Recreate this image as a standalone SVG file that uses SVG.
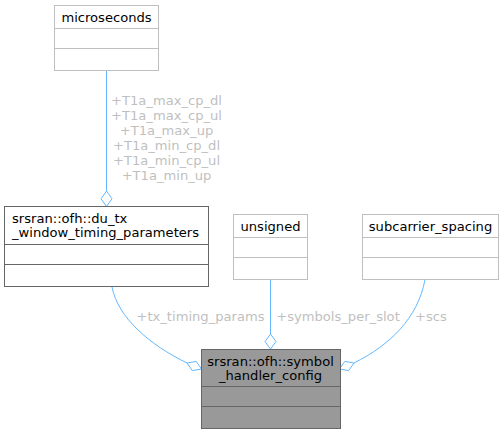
<svg xmlns="http://www.w3.org/2000/svg" width="504" height="435" viewBox="0 0 504 435">
<style>
text{font-family:"DejaVu Sans",sans-serif;font-size:13.1px;fill:#000}
.lbl{fill:#bfbfbf}
.light{fill:#fff;stroke:#bfbfbf;stroke-width:1}
.dark{fill:#fff;stroke:#666;stroke-width:1}
.main{fill:#999;stroke:#666;stroke-width:1}
.edge{fill:none;stroke:#63b8ff;stroke-width:1}
.dia{fill:#fff;stroke:#63b8ff;stroke-width:1}
</style>
<rect width="504" height="435" fill="#fff"/>
<g id="connectors">
<path class="edge" d="M106.5,70.5 L106.5,191"/>
<path class="dia" d="M106.5,206.5 L101,198.75 L106.5,191 L112,198.75 Z"/>
<text class="lbl" x="166.5" y="104.5" text-anchor="middle">+T1a_max_cp_dl</text>
<text class="lbl" x="166.5" y="119.5" text-anchor="middle">+T1a_max_cp_ul</text>
<text class="lbl" x="166.5" y="134.5" text-anchor="middle">+T1a_max_up</text>
<text class="lbl" x="166.5" y="149.5" text-anchor="middle">+T1a_min_cp_dl</text>
<text class="lbl" x="166.5" y="164.5" text-anchor="middle">+T1a_min_cp_ul</text>
<text class="lbl" x="166.5" y="179.5" text-anchor="middle">+T1a_min_up</text>
<path class="edge" d="M112,287 C118,318 150,345 187,363"/>
<path class="dia" d="M201.5,369 L192.3,370.6 L187,363 L196.2,361.4 Z"/>
<text class="lbl" x="200.5" y="320.5" text-anchor="middle">+tx_timing_params</text>
<path class="edge" d="M270.5,279.5 L270.5,334"/>
<path class="dia" d="M270.5,349 L265,341.5 L270.5,334 L276,341.5 Z"/>
<text class="lbl" x="338" y="320.5" text-anchor="middle">+symbols_per_slot</text>
<path class="edge" d="M425,279.5 C418,318 390,345 354,363"/>
<path class="dia" d="M339.5,369 L348.7,370.6 L354,363 L344.8,361.4 Z"/>
<text class="lbl" x="431" y="320.5" text-anchor="middle">+scs</text>
</g>
<g id="microseconds">
<rect class="light" x="54.5" y="5.5" width="104" height="65"/>
<line class="light" x1="54.5" y1="28.5" x2="158.5" y2="28.5"/>
<line class="light" x1="54.5" y1="48.5" x2="158.5" y2="48.5"/>
<text x="106.5" y="21.5" text-anchor="middle">microseconds</text>
</g>
<g id="du_tx_window_timing_parameters">
<rect class="dark" x="4.5" y="206.5" width="204" height="80"/>
<line class="dark" x1="4.5" y1="244.5" x2="208.5" y2="244.5"/>
<line class="dark" x1="4.5" y1="264.5" x2="208.5" y2="264.5"/>
<text x="12" y="222.5">srsran::ofh::du_tx</text>
<text x="12" y="237">_window_timing_parameters</text>
</g>
<g id="unsigned">
<rect class="light" x="233.5" y="214.5" width="74" height="65"/>
<line class="light" x1="233.5" y1="237.5" x2="307.5" y2="237.5"/>
<line class="light" x1="233.5" y1="257.5" x2="307.5" y2="257.5"/>
<text x="270.5" y="231" text-anchor="middle">unsigned</text>
</g>
<g id="subcarrier_spacing">
<rect class="light" x="362.5" y="214.5" width="136" height="65"/>
<line class="light" x1="362.5" y1="237.5" x2="498.5" y2="237.5"/>
<line class="light" x1="362.5" y1="257.5" x2="498.5" y2="257.5"/>
<text x="430.5" y="231" text-anchor="middle">subcarrier_spacing</text>
</g>
<g id="symbol_handler_config">
<rect class="main" x="201.5" y="349.5" width="139" height="79"/>
<line class="main" x1="201.5" y1="386.5" x2="340.5" y2="386.5"/>
<line class="main" x1="201.5" y1="406.5" x2="340.5" y2="406.5"/>
<text x="270.5" y="365.5" text-anchor="middle">srsran::ofh::symbol</text>
<text x="270.5" y="379.5" text-anchor="middle">_handler_config</text>
</g>
</svg>
